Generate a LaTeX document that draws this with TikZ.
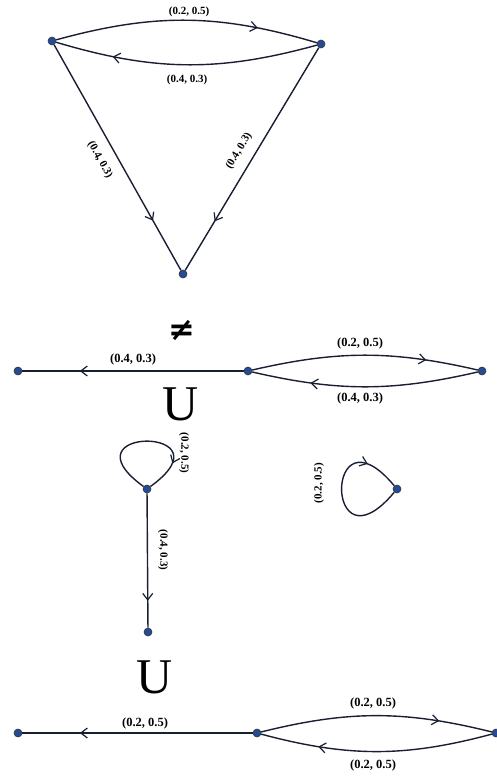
\documentclass[tikz,border=0pt]{standalone}
\usepackage{fontspec}
\setmainfont{Liberation Serif}
\newfontfamily\neqfont{DejaVu Sans}
\usetikzlibrary{arrows.meta,decorations.markings}
\definecolor{dotblue}{RGB}{35,75,150}
\definecolor{edgecol}{RGB}{25,30,50}
\begin{document}
\begin{tikzpicture}[x=1pt,y=-1pt,
  dot/.style={circle,fill=dotblue,draw=black!80,line width=0.6pt,inner sep=0pt,minimum size=8pt},
  edge/.style={draw=edgecol,color=edgecol,line width=1.4pt},
  midarr/.style={postaction={decorate},decoration={markings,mark=at position #1 with {\arrow{Straight Barb[length=6.5pt,width=10pt,line width=1.2pt]}}}},
  lbl/.style={font=\fontsize{12.5}{12.5}\selectfont\bfseries,inner sep=0pt},
  slbl/.style={font=\fontsize{11}{11}\selectfont\bfseries,inner sep=0pt},
  bigsym/.style={inner sep=0pt}]
\useasboundingbox (0,0) rectangle (496,776);
% top graph
\node[dot] (A) at (52,41) {};
\node[dot] (B) at (321,44) {};
\node[dot] (C) at (183,274) {};
\draw[edge,midarr=0.77] (A) to[bend left=16] (B);
\draw[edge,midarr=0.78] (B) to[bend left=16] (A);
\draw[edge,midarr=0.78] (A) -- (C);
\draw[edge,midarr=0.78] (B) -- (C);
\node[slbl] (l1) at (189,12) {(0.2, 0.5)};
\node[slbl] (l2) at (187,80) {(0.4, 0.3)};
\node[slbl,rotate=-60.8] (l3) at (100,160) {(0.4, 0.3)};
\node[slbl,rotate=58.7] (l4) at (239,151) {(0.4, 0.3)};
% neq
\node[bigsym,font=\neqfont\bfseries\fontsize{32}{32}\selectfont] (ne) at (182,330) {≠};
% middle row
\node[dot] (D) at (18,371) {};
\node[dot] (E) at (248,371) {};
\node[dot] (F) at (482,371) {};
\draw[edge,midarr=0.74] (E) -- (D);
\draw[edge,midarr=0.77] (E) to[bend left=13] (F);
\draw[edge,midarr=0.74] (F) to[bend left=13] (E);
\node[lbl] (l5) at (133,359) {(0.4, 0.3)};
\node[lbl] (l6) at (360,343) {(0.2, 0.5)};
\node[lbl] (l7) at (360,398) {(0.4, 0.3)};
\node[bigsym] (U1) at (181,404) {\fontsize{50}{50}\selectfont U};
% loop graph
\node[dot] (G) at (147,489) {};
\node[dot] (H) at (148,632) {};
\draw[edge,midarr=0.78] (G) .. controls (60,426) and (234,426) .. (G);
\draw[edge,midarr=0.8] (G) -- (H);
\node[slbl,rotate=-90] (l8) at (184,453) {(0.2, 0.5)};
\node[slbl,rotate=-90] (l9) at (163,550) {(0.4, 0.3)};
% single loop
\node[dot] (I) at (397,489) {};
\draw[edge,midarr=0.78] (I) .. controls (324,576) and (324,402) .. (I);
\node[slbl,rotate=90] (l10) at (319,483) {(0.2, 0.5)};
% second U
\node[bigsym] (U2) at (155,677) {\fontsize{50}{50}\selectfont U};
% bottom row
\node[dot] (J) at (18,733) {};
\node[dot] (K) at (257,733) {};
\node[dot] (L) at (496,733) {};
\draw[edge,midarr=0.75] (K) -- (J);
\draw[edge,midarr=0.77] (K) to[bend left=14] (L);
\draw[edge,midarr=0.75] (L) to[bend left=15] (K);
\node[lbl] (l11) at (145,723) {(0.2, 0.5)};
\node[lbl] (l12) at (373,703) {(0.2, 0.5)};
\node[lbl] (l13) at (373,765) {(0.2, 0.5)};
\end{tikzpicture}
\end{document}
